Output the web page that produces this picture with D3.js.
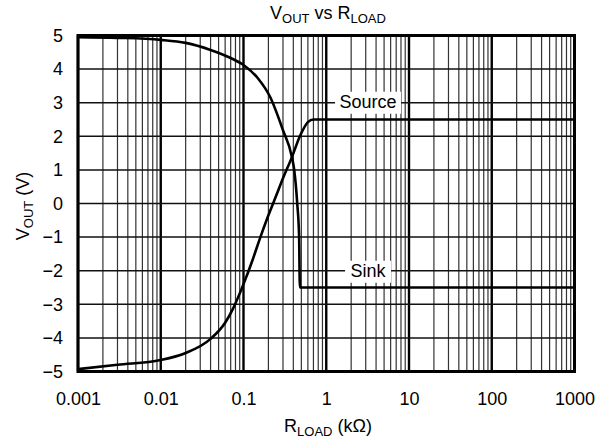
<!DOCTYPE html>
<html>
<head>
<meta charset="utf-8">
<script src="https://cdn.jsdelivr.net/npm/d3@7"></script>
<style>
  body { margin: 0; background: #fff; }
  svg { font-family: "Liberation Sans", Arial, sans-serif; }
  .tick text { font-size: 18px; fill: #000; }
</style>
</head>
<body>
<svg class="chart"></svg>
<script>
// data
var sinkR = [0.001, 0.003, 0.01, 0.02, 0.04, 0.07, 0.1, 0.15, 0.21, 0.3, 0.385, 0.41, 0.446, 0.47, 0.48, 0.49, 1000];
var sinkV = [4.95, 4.93, 4.87, 4.78, 4.57, 4.33, 4.12, 3.72, 3.17, 2.18, 1.38, 1.0, 0.0, -1.0, -2.5, -2.5, -2.5];
var sourceR = [0.001, 0.003, 0.01, 0.02, 0.04, 0.06, 0.075, 0.1, 0.13, 0.16, 0.2, 0.25, 0.3, 0.385, 0.48, 0.6, 0.7, 1000];
var sourceV = [-4.93, -4.8, -4.66, -4.45, -4.03, -3.55, -3.12, -2.4, -1.65, -1.0, -0.35, 0.25, 0.75, 1.38, 2.0, 2.42, 2.5, 2.5];
var xTicks = [0.001, 0.01, 0.1, 1, 10, 100, 1000];
var xTickLabels = ['0.001', '0.01', '0.1', '1', '10', '100', '1000'];
var yTicks = [5, 4, 3, 2, 1, 0, -1, -2, -3, -4, -5];

var W = 605, H = 441;
var margin = {top: 35.5, right: 30.5, bottom: 69.5, left: 78};
var width = W - margin.left - margin.right,
    height = H - margin.top - margin.bottom;

var chart = d3.select('.chart')
  .attr('width', W)
  .attr('height', H);

var x = d3.scaleLog().domain([0.001, 1000]).range([0, width]),
    y = d3.scaleLinear().domain([-5, 5]).range([height, 0]);

var g = chart.append('g')
  .attr('transform', 'translate(' + margin.left + ',' + margin.top + ')');

// minor + major vertical gridlines
var minor = [];
for (var e = -3; e < 3; e++) {
  for (var m = 2; m <= 9; m++) minor.push(m * Math.pow(10, e));
}
g.selectAll('.vminor')
  .data(minor)
 .enter().append('line')
  .attr('x1', function(d) { return x(d); })
  .attr('x2', function(d) { return x(d); })
  .attr('y1', 0).attr('y2', height)
  .attr('stroke', '#333').attr('stroke-width', 1.2);

g.selectAll('.vmajor')
  .data(xTicks)
 .enter().append('line')
  .attr('x1', function(d) { return x(d); })
  .attr('x2', function(d) { return x(d); })
  .attr('y1', 0).attr('y2', height)
  .attr('stroke', '#000').attr('stroke-width', 2.4);

// horizontal gridlines
g.selectAll('.hgrid')
  .data(yTicks)
 .enter().append('line')
  .attr('x1', 0).attr('x2', width)
  .attr('y1', function(d) { return y(d); })
  .attr('y2', function(d) { return y(d); })
  .attr('stroke', '#111').attr('stroke-width', 1.5);

// curves
var line = d3.line()
  .x(function(d) { return x(d[0]); })
  .y(function(d) { return y(d[1]); })
  .curve(d3.curveMonotoneX);

g.append('path')
  .datum(d3.zip(sinkR, sinkV))
  .attr('fill', 'none').attr('stroke', '#000').attr('stroke-width', 2.6)
  .attr('d', line);

g.append('path')
  .datum(d3.zip(sourceR, sourceV))
  .attr('fill', 'none').attr('stroke', '#000').attr('stroke-width', 2.6)
  .attr('d', line);

// frame
g.append('rect')
  .attr('width', width).attr('height', height)
  .attr('fill', 'none').attr('stroke', '#000').attr('stroke-width', 3);

// series labels with white boxes
function label(text, xv, yv, w) {
  var lx = x(xv), ly = y(yv);
  g.append('rect')
    .attr('x', lx - w / 2).attr('y', ly - 16)
    .attr('width', w).attr('height', 22)
    .attr('fill', '#fff');
  g.append('text')
    .attr('x', lx).attr('y', ly)
    .attr('text-anchor', 'middle')
    .style('font-size', '18px')
    .text(text);
}
label('Source', 3.2, 2.85, 66);
label('Sink', 3.2, -2.18, 46);

// axes
var xAxis = d3.axisBottom(x).tickValues(xTicks).tickSize(0).tickPadding(21)
  .tickFormat(function(d, i) { return xTickLabels[i]; });
var yAxis = d3.axisLeft(y).tickValues(yTicks).tickSize(0).tickPadding(15)
  .tickFormat(function(d) { return d < 0 ? '\u2212' + Math.abs(d) : String(d); });

g.append('g')
  .attr('transform', 'translate(0,' + height + ')')
  .call(xAxis)
  .call(function(s) { s.select('.domain').remove(); });

g.append('g')
  .call(yAxis)
  .call(function(s) { s.select('.domain').remove(); });

// title
var title = chart.append('text')
  .attr('x', 328).attr('y', 19)
  .attr('text-anchor', 'middle')
  .style('font-size', '18px');
title.append('tspan').text('V');
title.append('tspan').attr('dy', 4).style('font-size', '13px').text('OUT');
title.append('tspan').attr('dy', -4).text(' vs R');
title.append('tspan').attr('dy', 4).style('font-size', '13px').text('LOAD');

// x axis title
var xt = chart.append('text')
  .attr('x', 328).attr('y', 432)
  .attr('text-anchor', 'middle')
  .style('font-size', '18px');
xt.append('tspan').text('R');
xt.append('tspan').attr('dy', 4).style('font-size', '13px').text('LOAD');
xt.append('tspan').attr('dy', -4).text(' (k\u03A9)');

// y axis title
var yt = chart.append('text')
  .attr('transform', 'translate(29,206) rotate(-90)')
  .attr('text-anchor', 'middle')
  .style('font-size', '18px');
yt.append('tspan').text('V');
yt.append('tspan').attr('dy', 4).style('font-size', '13px').text('OUT');
yt.append('tspan').attr('dy', -4).text(' (V)');
</script>
</body>
</html>
